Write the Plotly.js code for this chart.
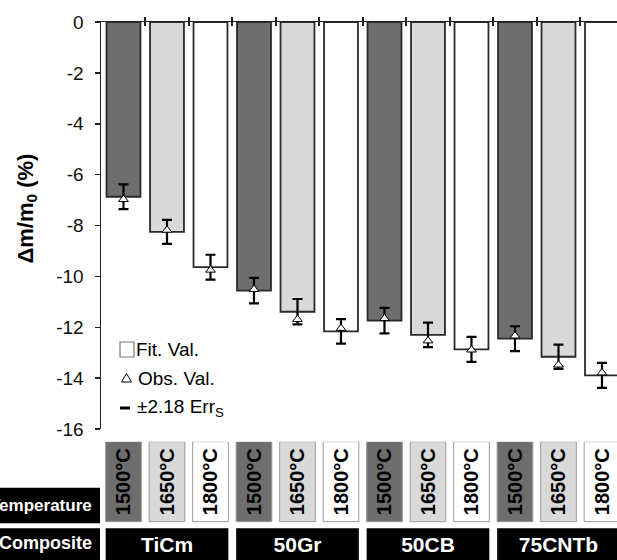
<!DOCTYPE html>
<html>
<head>
<meta charset="utf-8">
<script src="https://cdn.plot.ly/plotly-3.0.1.min.js"></script>
<style>html,body{margin:0;padding:0;background:#fff;}#chart{width:617px;height:560px;}</style>
</head>
<body>
<div id="chart"></div>
<script>
// ---- data ----
const composites = ['TiCm', '50Gr', '50CB', '75CNTb'];
const temperatures = ['1500°C', '1650°C', '1800°C'];
const fitValues = [-6.87, -8.25, -9.64, -10.56, -11.39, -12.16, -11.74, -12.30, -12.87, -12.45, -13.16, -13.89];
const obsValues = [-6.97, -8.18, -9.75, -10.51, -11.69, -12.04, -11.65, -12.53, -12.89, -12.34, -13.48, -13.79];
const errHalf = [0.49, 0.47, 0.49, 0.50, 0.50, 0.48, 0.50, 0.48, 0.49, 0.49, 0.48, 0.49];
const yTicks = [0, -2, -4, -6, -8, -10, -12, -14, -16];
const yTickLabels = ['0', '-2', '-4', '-6', '-8', '-10', '-12', '-14', '-16'];

// ---- styles / layout constants ----
const FONT = 'Liberation Sans, Arial, sans-serif';
const tempColors = ['#6e6e6e', '#d9d9d9', '#ffffff'];
const W = 617, H = 560, ML = 101, MT = 22;
const PW = W - ML, PH = H - MT;
const px = p => (p - ML) / PW;
const py = p => (H - p) / PH;

// build per-bar arrays from data
const idx = [], barColors = [], tempText = [];
composites.forEach((c, g) => {
  temperatures.forEach((t, k) => {
    idx.push(g * temperatures.length + k);
    barColors.push(tempColors[k]);
    tempText.push(t);
  });
});
const groupCenters = composites.map((c, g) => g * temperatures.length + (temperatures.length - 1) / 2);
const boundaries = idx.slice(1).map(i => i - 0.5);

const traces = [
  {
    type: 'bar', x: idx, y: fitValues, width: 0.78,
    marker: {color: barColors, line: {color: '#2a2a2a', width: 1.8}},
    error_y: {type: 'data', array: errHalf, visible: true, color: '#000', thickness: 2.2, width: 5},
    xaxis: 'x', yaxis: 'y', hoverinfo: 'skip'
  },
  {
    type: 'scatter', mode: 'markers', x: idx, y: obsValues,
    marker: {symbol: 'triangle-up', size: 8.5, color: '#fff', line: {color: '#000', width: 1}},
    xaxis: 'x', yaxis: 'y', hoverinfo: 'skip', cliponaxis: false
  },
  // table: temperature row
  {
    type: 'bar', x: idx, y: idx.map(() => 0.676), base: 0.324, width: 0.82,
    marker: {color: barColors, line: {color: '#9a9a9a', width: 1}},
    text: tempText, textposition: 'inside', insidetextanchor: 'middle', textangle: -90,
    constraintext: 'none',
    textfont: {family: FONT, size: 20, color: '#000', weight: 'bold'},
    xaxis: 'x', yaxis: 'y2', hoverinfo: 'skip'
  },
  // table: composite row
  {
    type: 'bar', x: groupCenters, y: groupCenters.map(() => 0.268), base: 0, width: 2.82,
    marker: {color: '#000', line: {width: 0}},
    text: composites, textposition: 'inside', insidetextanchor: 'middle', textangle: 0,
    constraintext: 'none',
    textfont: {family: FONT, size: 21, color: '#fff', weight: 'bold'},
    xaxis: 'x', yaxis: 'y2', hoverinfo: 'skip'
  },
  {type: 'scatter', x: [], y: [], xaxis: 'x2', yaxis: 'y', showlegend: false}
];

const xr = [-0.517, 11.345];
const layout = {
  width: W, height: H,
  margin: {l: ML, r: 0, t: MT, b: 0, pad: 0},
  paper_bgcolor: '#fff', plot_bgcolor: 'rgba(0,0,0,0)',
  showlegend: false, barmode: 'overlay',
  font: {family: FONT, color: '#000'},
  xaxis: {
    range: xr, side: 'top', anchor: 'y', showline: true, linecolor: '#222', linewidth: 1.5,
    ticks: 'outside', ticklen: 4, tickwidth: 1.8, tickcolor: '#222', tickvals: boundaries,
    showticklabels: false, showgrid: false, zeroline: false, fixedrange: true
  },
  xaxis2: {
    range: xr, side: 'top', anchor: 'y', overlaying: 'x', showline: false,
    ticks: 'inside', ticklen: 4, tickwidth: 1.8, tickcolor: '#222', tickvals: boundaries,
    showticklabels: false, showgrid: false, zeroline: false
  },
  yaxis: {
    domain: [py(429), 1], range: [-16, 0], anchor: 'x', tickvals: yTicks, ticktext: yTickLabels,
    ticks: 'outside', ticklen: 5, tickwidth: 1.5, tickcolor: '#222',
    showline: true, linecolor: '#222', linewidth: 1.5, showgrid: false, zeroline: false,
    tickfont: {family: FONT, size: 19, color: '#111'}, ticklabelstandoff: 7
  },
  yaxis2: {domain: [0, py(441.7)], range: [0, 1], anchor: 'x', visible: false, showgrid: false, zeroline: false},
  shapes: [
    // legend symbols
    {type: 'rect', xref: 'paper', yref: 'paper', x0: px(120), x1: px(134), y0: py(357), y1: py(342),
      line: {color: '#777', width: 1.2}, fillcolor: '#fff'},
    {type: 'path', xref: 'paper', yref: 'paper',
      path: `M ${px(126.5)},${py(373.5)} L ${px(131.5)},${py(382)} L ${px(121.5)},${py(382)} Z`,
      line: {color: '#000', width: 1}, fillcolor: '#fff'},
    {type: 'rect', xref: 'paper', yref: 'paper', x0: px(120), x1: px(130), y0: py(409.5), y1: py(406.5),
      line: {width: 0}, fillcolor: '#000'},
    // row label boxes
    {type: 'rect', xref: 'paper', yref: 'paper', x0: px(0), x1: px(100), y0: py(523.3), y1: py(487.7),
      line: {width: 0}, fillcolor: '#000'},
    {type: 'rect', xref: 'paper', yref: 'paper', x0: px(0), x1: px(100), y0: py(566), y1: py(528.3),
      line: {width: 0}, fillcolor: '#000'}
  ],
  annotations: [
    {xref: 'paper', yref: 'paper', x: px(26), y: py(208.5), xanchor: 'center', yanchor: 'middle',
      textangle: -90, showarrow: false, text: '<b>Δm/m<sub>0</sub> (%)</b>',
      font: {family: FONT, size: 22, color: '#000'}},
    {xref: 'paper', yref: 'paper', x: px(134), y: py(349.5), xanchor: 'left', yanchor: 'middle',
      showarrow: false, text: 'Fit. Val.', font: {family: FONT, size: 19, color: '#000'}},
    {xref: 'paper', yref: 'paper', x: px(136), y: py(378.5), xanchor: 'left', yanchor: 'middle',
      showarrow: false, text: 'Obs. Val.', font: {family: FONT, size: 19, color: '#000'}},
    {xref: 'paper', yref: 'paper', x: px(135), y: py(407.5), xanchor: 'left', yanchor: 'middle',
      showarrow: false, text: '±2.18 Err<sub>S</sub>', font: {family: FONT, size: 19, color: '#000'}},
    {xref: 'paper', yref: 'paper', x: px(94), y: py(505.5), xanchor: 'right', yanchor: 'middle',
      showarrow: false, text: '<b>Temperature</b>', font: {family: FONT, size: 17, color: '#fff'}},
    {xref: 'paper', yref: 'paper', x: px(94), y: py(543), xanchor: 'right', yanchor: 'middle',
      showarrow: false, text: '<b>Composite</b>', font: {family: FONT, size: 18, color: '#fff'}}
  ]
};

Plotly.newPlot('chart', traces, layout, {staticPlot: true, displayModeBar: false});
</script>
</body>
</html>
